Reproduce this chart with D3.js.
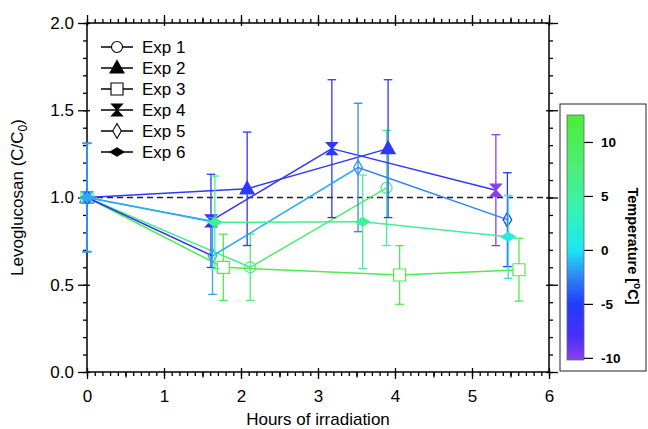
<!DOCTYPE html>
<html>
<head>
<meta charset="utf-8">
<script src="https://cdn.jsdelivr.net/npm/d3@7"></script>
<style>
body { margin: 0; background: #fff; }
svg { font-family: "Liberation Sans", Arial, sans-serif; }
</style>
</head>
<body>
<div id="chart"></div>
<script>
// Data
var expNames = ["Exp 1", "Exp 2", "Exp 3", "Exp 4", "Exp 5", "Exp 6"];
var hours = [
	[0, 2.12, 3.89],
	[0, 2.08, 3.91],
	[0, 1.77, 4.06, 5.61],
	[0, 1.61, 3.18, 5.31],
	[0, 1.63, 3.52, 5.46],
	[0, 1.66, 3.58, 5.47]
];
var ratio = [
	[1.0, 0.60, 1.055],
	[1.0, 1.05, 1.28],
	[1.0, 0.60, 0.556, 0.586],
	[1.0, 0.866, 1.28, 1.042],
	[1.0, 0.665, 1.172, 0.873],
	[1.0, 0.858, 0.861, 0.775]
];
var ratioErr = [
	[0.31, 0.19, 0.33],
	[0.31, 0.325, 0.395],
	[0.31, 0.19, 0.168, 0.18],
	[0.31, 0.267, 0.395, 0.318],
	[0.31, 0.22, 0.368, 0.269],
	[0.31, 0.265, 0.268, 0.238]
];
var temperature = [
	[6, 8, 6],
	[-6, -6, -6],
	[11, 11, 11, 11],
	[-1.5, -6, -6, -10],
	[-7, -1.5, -2.5, -5],
	[-1.5, 6, 5.5, 1]
];
var xTicks = [0, 1, 2, 3, 4, 5, 6];
var yTicks = [0, 0.5, 1.0, 1.5, 2.0];
var tempTicks = [-10, -5, 0, 5, 10];

// marker shape for each experiment
var symbolType = ["circle", "triangle", "square", "hourglass", "diamondV", "diamondH"];

var margin = {top: 23, right: 99, bottom: 57, left: 87};
var width = 648 - margin.left - margin.right;
var height = 429 - margin.top - margin.bottom;

var root = d3.select("#chart")
	.append("svg")
	.attr("width", 648)
	.attr("height", 429);

var svg = root.append("g")
	.attr("transform", "translate(" + margin.left + "," + margin.top + ")");

var x = d3.scaleLinear().domain([0, 6]).range([0, width]);
var y = d3.scaleLinear().domain([0, 2]).range([height, 0]);

// colour map of the temperature bar
var color = d3.scaleLinear()
	.domain([-10.2, -8, -5, -2.5, 0, 2.5, 5, 8, 12.5])
	.range(["#8b3ff0", "#4a2ff5", "#1e3cff", "#2f86f2", "#1ee6f2", "#2ef0c8", "#3ff0a0", "#4eee70", "#4cec3c"]);

function symbolPath(type) {
	if (type == "circle") return d3.symbol().type(d3.symbolCircle).size(Math.PI * 5.5 * 5.5)();
	if (type == "square") return "M-6,-6H6V6H-6Z";
	if (type == "triangle") return "M0,-7.5L7,5L-7,5Z";
	if (type == "hourglass") return "M-5.5,-6H5.5L-5.5,6H5.5Z";
	if (type == "diamondV") return "M0,-7.5L4.3,0L0,7.5L-4.3,0Z";
	return "M-7,0L0,-4.2L7,0L0,4.2Z";
}
function isFilled(type) {
	return type == "triangle" || type == "hourglass" || type == "diamondH";
}

// Axes: majors cross the frame, minors point outward
function styleAxis(g) {
	g.select(".domain").remove();
	g.selectAll(".tick line").attr("stroke", "#000").attr("stroke-width", 1.3);
	g.attr("font-size", 17).attr("font-family", '"Liberation Sans", Arial, sans-serif');
	g.selectAll(".tick text").attr("fill", "#000");
}
var halfHours = [0.5, 1.5, 2.5, 3.5, 4.5, 5.5];

// bottom
svg.append("g").attr("transform", "translate(0," + height + ")")
	.call(d3.axisBottom(x).ticks(60).tickSize(4).tickFormat("")).call(styleAxis);
svg.append("g").attr("transform", "translate(0," + height + ")")
	.call(d3.axisBottom(x).tickValues(halfHours).tickSize(5.5).tickFormat("")).call(styleAxis);
svg.append("g").attr("transform", "translate(0," + height + ")")
	.call(d3.axisTop(x).tickValues(xTicks).tickSize(4).tickFormat("")).call(styleAxis);
svg.append("g").attr("transform", "translate(0," + height + ")")
	.call(d3.axisBottom(x).tickValues(xTicks).tickSize(7).tickPadding(11).tickFormat(d3.format("d"))).call(styleAxis);
// top
svg.append("g").call(d3.axisTop(x).ticks(60).tickSize(4).tickFormat("")).call(styleAxis);
svg.append("g").call(d3.axisTop(x).tickValues(halfHours).tickSize(5.5).tickFormat("")).call(styleAxis);
svg.append("g").call(d3.axisTop(x).tickValues(xTicks).tickSize(8).tickFormat("")).call(styleAxis);
svg.append("g").call(d3.axisBottom(x).tickValues(xTicks).tickSize(3).tickFormat("")).call(styleAxis);
// left
svg.append("g").call(d3.axisLeft(y).ticks(20).tickSize(4).tickFormat("")).call(styleAxis);
svg.append("g").call(d3.axisRight(y).tickValues(yTicks).tickSize(3).tickFormat("")).call(styleAxis);
svg.append("g").call(d3.axisLeft(y).tickValues(yTicks).tickSize(9).tickPadding(4).tickFormat(d3.format(".1f"))).call(styleAxis);
// right
svg.append("g").attr("transform", "translate(" + width + ",0)")
	.call(d3.axisRight(y).ticks(20).tickSize(4).tickFormat("")).call(styleAxis);
svg.append("g").attr("transform", "translate(" + width + ",0)")
	.call(d3.axisRight(y).tickValues(yTicks).tickSize(9).tickFormat("")).call(styleAxis);
svg.append("g").attr("transform", "translate(" + width + ",0)")
	.call(d3.axisLeft(y).tickValues(yTicks).tickSize(3).tickFormat("")).call(styleAxis);

svg.append("rect")
	.attr("width", width)
	.attr("height", height)
	.attr("fill", "none")
	.attr("stroke", "#000")
	.attr("stroke-width", 1.5);

// axis titles
svg.append("text")
	.attr("x", width / 2)
	.attr("y", height + 53)
	.attr("text-anchor", "middle")
	.attr("font-size", 17)
	.text("Hours of irradiation");

var yTitle = svg.append("text")
	.attr("transform", "translate(-64," + (height / 2) + ") rotate(-90)")
	.attr("text-anchor", "middle")
	.attr("font-size", 17);
yTitle.append("tspan").text("Levoglucosan (C/C");
yTitle.append("tspan").attr("font-size", 12).attr("dy", 4).text("0");
yTitle.append("tspan").attr("dy", -4).text(")");

// reference line at C/C0 = 1
svg.append("line")
	.attr("x1", x(0)).attr("x2", x(6))
	.attr("y1", y(1)).attr("y2", y(1))
	.attr("stroke", "#222")
	.attr("stroke-width", 1.5)
	.attr("stroke-dasharray", "6,4");

// experiments
expNames.forEach(function(name, k) {
	var pts = hours[k].map(function(h, i) {
		return {h: h, r: ratio[k][i], e: ratioErr[k][i], t: temperature[k][i]};
	});
	var g = svg.append("g");

	// segments take the colour of their starting point
	g.selectAll("line.seg")
		.data(pts.slice(0, -1))
		.enter()
		.append("line")
		.attr("x1", function(d) { return x(d.h); })
		.attr("y1", function(d) { return y(d.r); })
		.attr("x2", function(d, i) { return x(pts[i + 1].h); })
		.attr("y2", function(d, i) { return y(pts[i + 1].r); })
		.attr("stroke", function(d) { return color(d.t); })
		.attr("stroke-width", 1.5);

	// error bars
	var eb = g.selectAll("g.err")
		.data(pts)
		.enter()
		.append("g")
		.attr("stroke", function(d) { return color(d.t); })
		.attr("stroke-width", 1.3);
	eb.append("line")
		.attr("x1", function(d) { return x(d.h); })
		.attr("x2", function(d) { return x(d.h); })
		.attr("y1", function(d) { return y(d.r - d.e); })
		.attr("y2", function(d) { return y(d.r + d.e); });
	[-1, 1].forEach(function(s) {
		eb.append("line")
			.attr("x1", function(d) { return x(d.h) - 4.3; })
			.attr("x2", function(d) { return x(d.h) + 4.3; })
			.attr("y1", function(d) { return y(d.r + s * d.e); })
			.attr("y2", function(d) { return y(d.r + s * d.e); });
	});

	// markers
	var type = symbolType[k];
	g.selectAll("path.mk")
		.data(pts)
		.enter()
		.append("path")
		.attr("d", symbolPath(type))
		.attr("transform", function(d) { return "translate(" + x(d.h) + "," + y(d.r) + ")"; })
		.attr("fill", function(d) {
			if (isFilled(type)) return color(d.t);
			return type == "square" ? "#fff" : "none";
		})
		.attr("stroke", function(d) { return color(d.t); })
		.attr("stroke-width", 1.2);
});

// legend
var legend = svg.append("g").attr("transform", "translate(14,24)");
expNames.forEach(function(name, k) {
	var row = legend.append("g").attr("transform", "translate(0," + (k * 21) + ")");
	row.append("line").attr("x1", 0).attr("x2", 32).attr("stroke", "#000").attr("stroke-width", 1.5);
	row.append("path")
		.attr("d", symbolPath(symbolType[k]))
		.attr("transform", "translate(16,0)")
		.attr("fill", isFilled(symbolType[k]) ? "#000" : "#fff")
		.attr("stroke", "#000")
		.attr("stroke-width", 1.1);
	row.append("text")
		.attr("x", 41)
		.attr("dy", "0.36em")
		.attr("font-size", 17)
		.text(name);
});

// colour bar
var cb = root.append("g");
cb.append("rect")
	.attr("x", 560).attr("y", 104)
	.attr("width", 86).attr("height", 267)
	.attr("fill", "#fff")
	.attr("stroke", "#222")
	.attr("stroke-width", 1);

var t = d3.scaleLinear().domain([-10.2, 12.5]).range([360, 115]);
var grad = root.append("defs").append("linearGradient")
	.attr("id", "tempGrad")
	.attr("x1", 0).attr("y1", 1).attr("x2", 0).attr("y2", 0);
grad.selectAll("stop")
	.data(color.domain())
	.enter()
	.append("stop")
	.attr("offset", function(d) { return (d - t.domain()[0]) / (t.domain()[1] - t.domain()[0]); })
	.attr("stop-color", function(d) { return color(d); });

cb.append("rect")
	.attr("x", 567).attr("y", t(12.5))
	.attr("width", 17).attr("height", t(-10.2) - t(12.5))
	.attr("fill", "url(#tempGrad)")
	.attr("stroke", "#666")
	.attr("stroke-width", 0.8);

var cbAxis = cb.append("g")
	.attr("transform", "translate(584,0)")
	.call(d3.axisRight(t).tickValues(tempTicks).tickSize(9).tickPadding(8)
		.tickFormat(function(d) { return String(d); }));
cbAxis.select(".domain").remove();
cbAxis.selectAll(".tick line").attr("stroke", "#000").attr("stroke-width", 1.2);
cbAxis.attr("font-size", 13.5).attr("font-weight", "bold").attr("font-family", '"Liberation Sans", Arial, sans-serif');
cbAxis.selectAll(".tick text").attr("fill", "#000");

var cbTitle = cb.append("text")
	.attr("transform", "translate(628,246) rotate(90)")
	.attr("text-anchor", "middle")
	.attr("font-size", 14.5)
	.attr("font-weight", "bold");
cbTitle.append("tspan").text("Temperature [");
cbTitle.append("tspan").attr("font-size", 10).attr("dy", -6).text("o");
cbTitle.append("tspan").attr("dy", 6).text("C]");
</script>
</body>
</html>
